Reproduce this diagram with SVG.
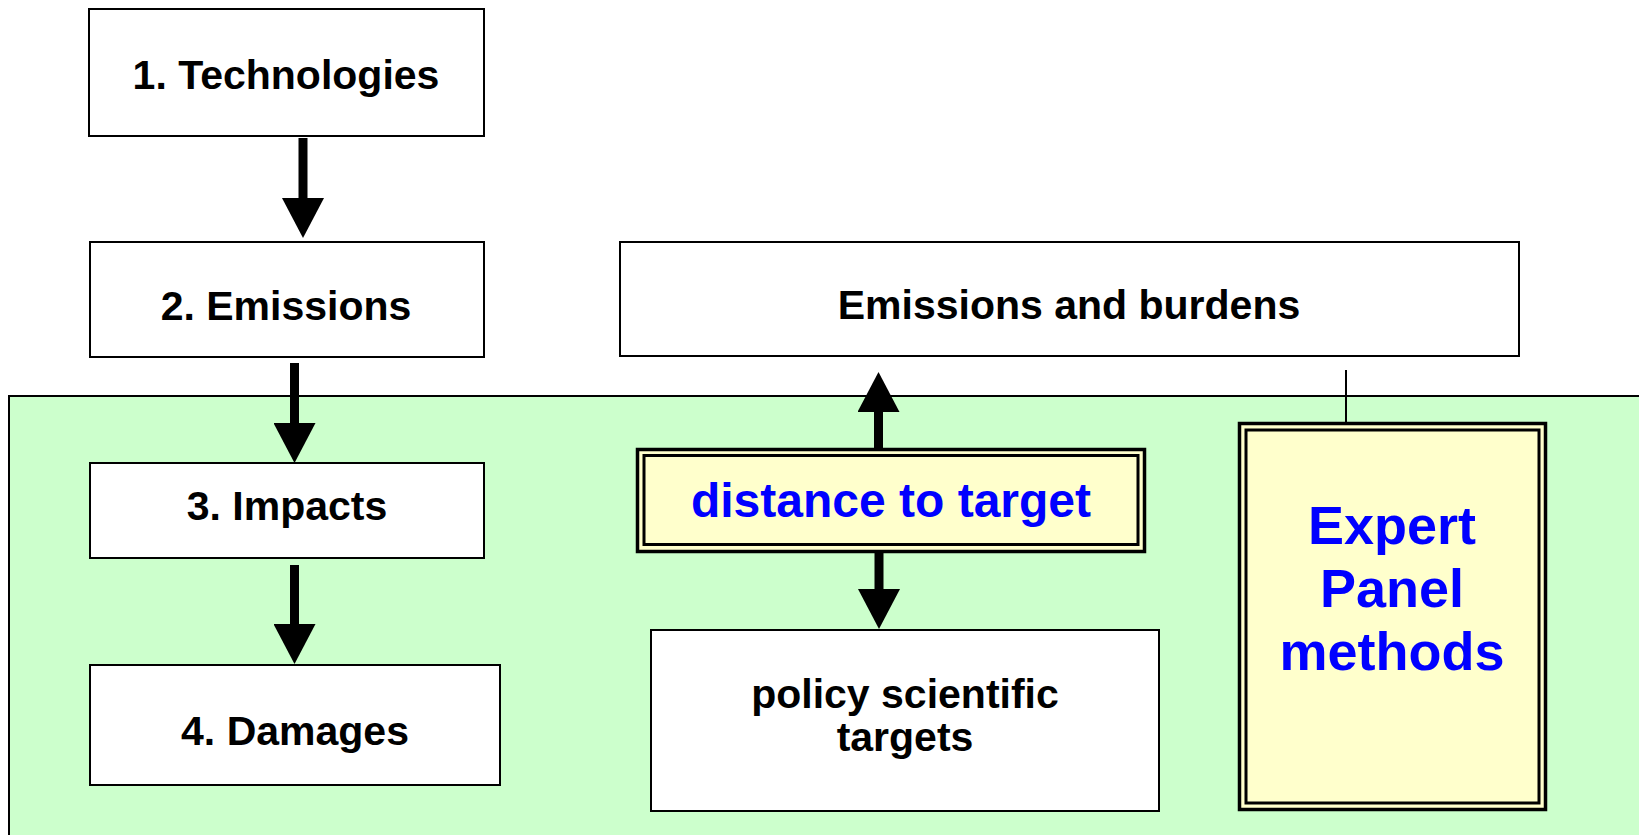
<svg xmlns="http://www.w3.org/2000/svg" width="1639" height="835" viewBox="0 0 1639 835">
  <defs>
    <style>
      .box { fill: #ffffff; stroke: #000000; stroke-width: 2; }
      .frame { fill: #ffffcc; stroke: #000000; stroke-width: 3.5; }
      .frame-in { fill: none; stroke: #000000; stroke-width: 3; }
      .lbl { font-family: "Liberation Sans", Arial, sans-serif; font-weight: bold; font-size: 41px; fill: #000000; text-anchor: middle; }
      .blue { font-family: "Liberation Sans", Arial, sans-serif; font-weight: bold; fill: #0000ff; text-anchor: middle; }
      .shaft { stroke: #000000; stroke-width: 9; fill: none; marker-end: url(#head); }
    </style>
    <marker id="head" markerUnits="userSpaceOnUse" markerWidth="40" markerHeight="42" viewBox="0 0 40 42" refX="0" refY="21" orient="auto">
      <path d="M0,0 L40,21 L0,42 z" fill="#000000"/>
    </marker>
  </defs>

  <rect width="1639" height="835" fill="#ffffff"/>

  <!-- green region holding impacts, damages and weighting methods -->
  <rect id="region" x="9" y="396" width="1640" height="460" fill="#ccffcc" stroke="#000000" stroke-width="2"/>

  <g id="technologies">
    <rect class="box" x="89" y="9" width="395" height="127"/>
    <text class="lbl" x="286" y="89">1. Technologies</text>
  </g>

  <g id="emissions">
    <rect class="box" x="90" y="242" width="394" height="115"/>
    <text class="lbl" x="286" y="320">2. Emissions</text>
  </g>

  <g id="impacts">
    <rect class="box" x="90" y="463" width="394" height="95"/>
    <text class="lbl" x="287" y="520">3. Impacts</text>
  </g>

  <g id="damages">
    <rect class="box" x="90" y="665" width="410" height="120"/>
    <text class="lbl" x="295" y="745">4. Damages</text>
  </g>

  <g id="burdens">
    <rect class="box" x="620" y="242" width="899" height="114"/>
    <text class="lbl" x="1069" y="319">Emissions and burdens</text>
  </g>

  <g id="distance">
    <rect class="frame" x="637.5" y="449.5" width="507" height="102"/>
    <rect class="frame-in" x="644" y="455.5" width="494" height="89"/>
    <text class="blue" x="891" y="517" font-size="48">distance to target</text>
  </g>

  <g id="targets">
    <rect class="box" x="651" y="630" width="508" height="181"/>
    <text class="lbl" x="905" y="708">policy scientific</text>
    <text class="lbl" x="905" y="751">targets</text>
  </g>

  <g id="expert">
    <rect class="frame" x="1239.5" y="423.5" width="306" height="386"/>
    <rect class="frame-in" x="1246" y="430" width="293" height="373"/>
    <text class="blue" x="1392" y="544" font-size="54">Expert</text>
    <text class="blue" x="1392" y="607" font-size="54">Panel</text>
    <text class="blue" x="1392" y="670" font-size="54">methods</text>
  </g>

  <g id="connectors">
    <path class="shaft" d="M303,138 L303,198"/>
    <path class="shaft" d="M294.5,363 L294.5,423"/>
    <path class="shaft" d="M294.5,565 L294.5,624"/>
    <path class="shaft" d="M878.5,449 L878.5,412"/>
    <path class="shaft" d="M879,553 L879,589"/>
    <line x1="1346" y1="370" x2="1346" y2="422" stroke="#000000" stroke-width="2"/>
  </g>
</svg>
